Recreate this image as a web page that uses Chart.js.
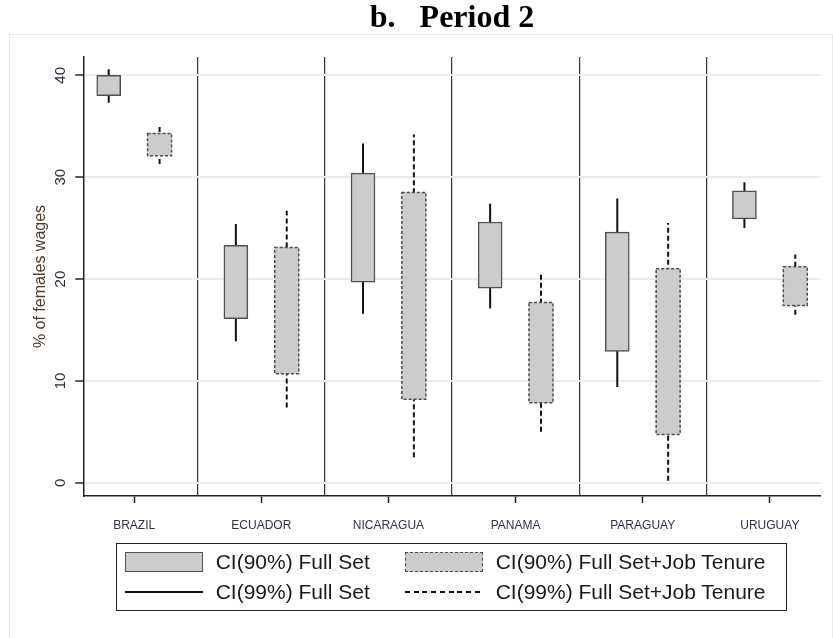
<!DOCTYPE html>
<html>
<head>
<meta charset="utf-8">
<title>b. Period 2</title>
<script src="https://cdn.jsdelivr.net/npm/chart.js@4.4.1/dist/chart.umd.min.js"></script>
<style>
  body { margin: 0; background: #fff; }
  #wrap { position: relative; width: 833px; height: 638px; overflow: hidden; }
  #frame { position: absolute; left: 9px; top: 34px; width: 822px; height: 660px; border: 1.5px solid #e4ebef; }
  #chart { position: absolute; left: 0; top: 0; }
  #legend {
    position: absolute; left: 116px; top: 543px; width: 671px; height: 68px;
    box-sizing: border-box; border: 1.5px solid #222; padding: 3px 0 0 8px;
    display: grid; grid-template-columns: 280px auto; grid-auto-rows: 30px; align-items: center;
    font: 21px "Liberation Sans", Arial, sans-serif; color: #1a1a1a;
  }
  .item { display: flex; align-items: center; white-space: nowrap; }
  .swatch { width: 78px; box-sizing: border-box; margin-right: 12.7px; flex: none; }
</style>
</head>
<body>
<div id="wrap">
  <div id="frame"></div>
  <canvas id="chart" width="833" height="638"></canvas>
  <div id="legend"></div>
</div>
<script>
// ─── data ───
const countries = ['BRAZIL', 'ECUADOR', 'NICARAGUA', 'PANAMA', 'PARAGUAY', 'URUGUAY'];

// CI(90%) Full Set (box)
const full90Low  = [38.0, 16.1, 19.7, 19.1, 12.9, 25.9];
const full90High = [40.0, 23.3, 30.4, 25.6, 24.6, 28.65];
// CI(99%) Full Set (whisker)
const full99Low  = [37.3, 13.9, 16.6, 17.1, 9.4, 25.0];
const full99High = [40.6, 25.4, 33.3, 27.4, 27.9, 29.5];
// CI(90%) Full Set+Job Tenure (box)
const tenure90Low  = [32.1, 10.7, 8.2, 7.85, 4.75, 17.4];
const tenure90High = [34.3, 23.1, 28.5, 17.7, 21.0, 21.2];
// CI(99%) Full Set+Job Tenure (whisker)
const tenure99Low  = [31.3, 7.4, 2.5, 5.0, 0.2, 16.5];
const tenure99High = [35.0, 26.7, 34.2, 20.5, 25.5, 22.4];

const yTicks = [0, 10, 20, 30, 40];

// ─── chart ───
const pairOffset = 0.2;
const boxFill = '#cccccc';
const boxEdge = '#505050';
const tenureBoxDash = [3, 2];
const whiskerDash = [5, 3];

const boxes = (lo, hi, side) => countries.map((c, i) => ({ x: i + 1 + side * pairOffset, y: [lo[i], hi[i]] }));
const whiskers = (lo, hi, side) => countries.flatMap((c, i) => {
    const x = i + 1 + side * pairOffset;
    return [{ x, y: lo[i] }, { x, y: hi[i] }, { x, y: null }];
});

Chart.defaults.font.family = '"Liberation Sans", Arial, sans-serif';

// dashed outline for the job-tenure boxes (bar borders can't be dashed)
const dashedBoxes = {
    id: 'dashedBoxes',
    afterDatasetsDraw(chart) {
        const ctx = chart.ctx;
        ctx.save();
        ctx.setLineDash(tenureBoxDash);
        ctx.strokeStyle = boxEdge;
        ctx.lineWidth = 1.5;
        chart.getDatasetMeta(1).data.forEach(bar => {
            const { x, y, base, width } = bar.getProps(['x', 'y', 'base', 'width'], true);
            ctx.strokeRect(x - width / 2, Math.min(y, base), width, Math.abs(base - y));
        });
        ctx.restore();
    }
};

// y tick labels are rotated in the original
const rotatedYLabels = {
    id: 'rotatedYLabels',
    afterDraw(chart) {
        const y = chart.scales.y, ctx = chart.ctx;
        ctx.save();
        ctx.font = '15px "Liberation Sans", Arial, sans-serif';
        ctx.fillStyle = '#2b2b3a';
        ctx.textAlign = 'center';
        ctx.textBaseline = 'middle';
        y.ticks.forEach(t => {
            ctx.save();
            ctx.translate(y.right - 22, y.getPixelForValue(t.value));
            ctx.rotate(-Math.PI / 2);
            ctx.fillText(String(t.value), 0, 0);
            ctx.restore();
        });
        ctx.restore();
    }
};

// html legend in two columns, built from the datasets
const htmlLegend = {
    id: 'htmlLegend',
    afterUpdate(chart) {
        const box = document.getElementById('legend');
        box.innerHTML = '';
        chart.data.datasets.forEach((ds, i) => {
            const item = document.createElement('div');
            item.className = 'item';
            const sw = document.createElement('span');
            sw.className = 'swatch';
            if (ds.type === 'line') {
                sw.style.height = ds.borderWidth + 'px';
                sw.style.background = ds.borderDash
                    ? `repeating-linear-gradient(90deg, ${ds.borderColor} 0 5px, transparent 5px 8.7px)`
                    : ds.borderColor;
            } else {
                sw.style.height = '20px';
                sw.style.background = ds.backgroundColor;
                sw.style.border = i === 1 ? `1.5px dashed ${boxEdge}` : `1.5px solid ${boxEdge}`;
            }
            const txt = document.createElement('span');
            txt.textContent = ds.label;
            item.appendChild(sw);
            item.appendChild(txt);
            box.appendChild(item);
        });
    }
};

new Chart(document.getElementById('chart'), {
    type: 'bar',
    data: {
        datasets: [
            {
                label: 'CI(90%) Full Set',
                data: boxes(full90Low, full90High, -1),
                backgroundColor: boxFill,
                borderColor: boxEdge,
                borderWidth: 1.5,
                borderSkipped: false,
                barThickness: 24,
                grouped: false,
                order: 1
            },
            {
                label: 'CI(90%) Full Set+Job Tenure',
                data: boxes(tenure90Low, tenure90High, 1),
                backgroundColor: boxFill,
                borderWidth: 0,
                borderSkipped: false,
                barThickness: 24,
                grouped: false,
                order: 1
            },
            {
                type: 'line',
                label: 'CI(99%) Full Set',
                data: whiskers(full99Low, full99High, -1),
                borderColor: '#111',
                borderWidth: 2,
                pointRadius: 0,
                spanGaps: false,
                order: 2
            },
            {
                type: 'line',
                label: 'CI(99%) Full Set+Job Tenure',
                data: whiskers(tenure99Low, tenure99High, 1),
                borderColor: '#111',
                borderWidth: 2,
                borderDash: whiskerDash,
                pointRadius: 0,
                spanGaps: false,
                order: 2
            }
        ]
    },
    options: {
        responsive: false,
        animation: false,
        layout: { padding: { right: 12.3 } },
        plugins: {
            legend: { display: false },
            tooltip: { enabled: false },
            title: {
                display: true,
                text: 'b.   Period 2',
                fullSize: false,
                color: '#000',
                font: { family: '"Liberation Serif", "Times New Roman", serif', size: 32, weight: 'bold' },
                padding: { top: 0, bottom: 18.6 }
            }
        },
        scales: {
            x: {
                type: 'linear',
                min: 0.6,
                max: 6.4,
                offset: false,
                afterBuildTicks: s => { s.ticks = countries.map((c, i) => ({ value: i + 1 })); },
                afterFit: s => { s.height = 142; },
                ticks: {
                    callback: (v, i) => countries[i],
                    color: '#33304a',
                    font: { size: 12 },
                    padding: 15,
                    maxRotation: 0,
                    autoSkip: false
                },
                grid: { offset: false, drawOnChartArea: false, tickColor: '#222', tickLength: 7, tickWidth: 1.5 },
                border: { color: '#222', width: 1.5 }
            },
            // separators between countries
            x2: {
                type: 'linear',
                position: 'top',
                min: 0.6,
                max: 6.4,
                offset: false,
                afterBuildTicks: s => { s.ticks = countries.map((c, i) => ({ value: i + 1 })); },
                ticks: { display: false },
                grid: { offset: true, color: '#333', lineWidth: 1.2, drawTicks: false },
                border: { display: false }
            },
            y: {
                type: 'linear',
                min: -1.3,
                max: 41.8,
                afterBuildTicks: s => { s.ticks = yTicks.map(v => ({ value: v })); },
                afterFit: s => { s.width = 83.3; },
                ticks: { display: false },
                grid: { color: '#e6edf1', lineWidth: 2, tickColor: '#222', tickLength: 8, tickWidth: 1.5 },
                border: { color: '#222', width: 1.5 },
                title: {
                    display: true,
                    text: '% of females wages',
                    color: '#4d3b2c',
                    font: { size: 16 },
                    padding: { top: 31.4, bottom: 0 }
                }
            }
        }
    },
    plugins: [dashedBoxes, rotatedYLabels, htmlLegend]
});
</script>
</body>
</html>
